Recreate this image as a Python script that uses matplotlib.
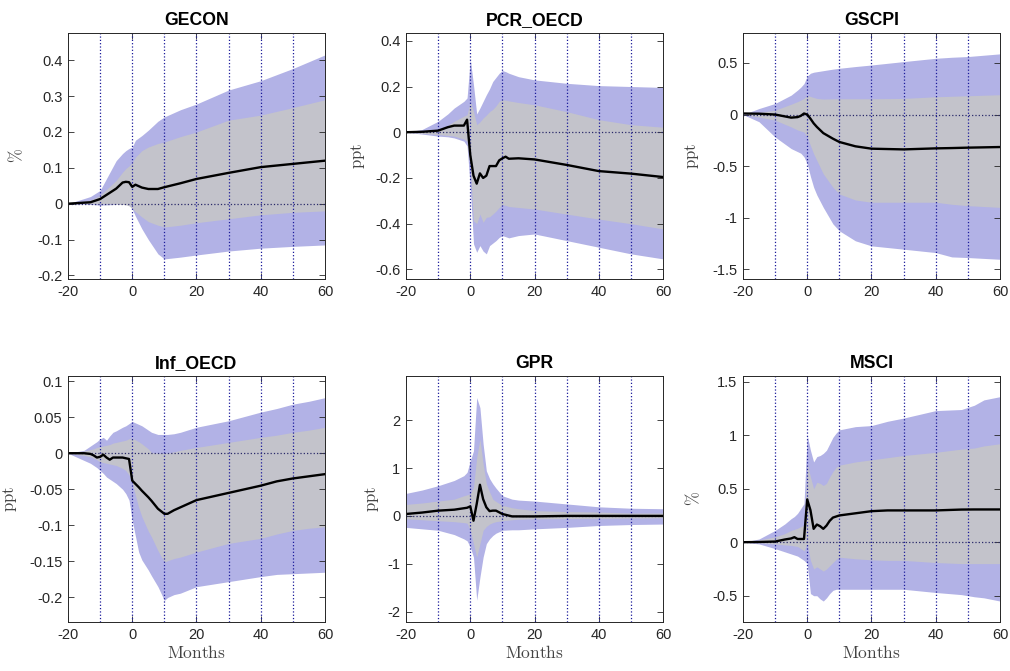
import matplotlib
matplotlib.use('Agg')
import matplotlib.pyplot as plt
import numpy as np

plt.rcParams['font.family'] = ['Liberation Sans', 'DejaVu Sans']
plt.rcParams['axes.unicode_minus'] = False
plt.rcParams['mathtext.fontset'] = 'cm'

# ---- data (horizon in months) ----
# GECON
gecon_x = [-20, -13, -10, -5, -3, -2, -1, 0, 1, 3, 5, 8, 10, 15, 20, 30, 40, 50, 60]
gecon_hi90 = [0, 0.02, 0.037, 0.12, 0.14, 0.148, 0.154, 0.158, 0.177, 0.19, 0.205, 0.23, 0.242, 0.262, 0.278, 0.317, 0.343, 0.377, 0.415]
gecon_hi68 = [0, 0.01, 0.023, 0.065, 0.088, 0.098, 0.105, 0.115, 0.13, 0.148, 0.158, 0.168, 0.172, 0.187, 0.2, 0.233, 0.247, 0.268, 0.29]
gecon_med = [0, 0.004, 0.013, 0.042, 0.059, 0.061, 0.06, 0.047, 0.053, 0.045, 0.041, 0.041, 0.046, 0.057, 0.069, 0.086, 0.102, 0.111, 0.12]
gecon_lo68 = [0, 0, 0, -0.001, -0.002, -0.003, -0.006, -0.014, -0.022, -0.037, -0.05, -0.06, -0.065, -0.06, -0.053, -0.042, -0.031, -0.024, -0.02]
gecon_lo90 = [0, -0.002, -0.004, -0.002, 0.018, 0.02, 0.014, -0.015, -0.035, -0.07, -0.1, -0.14, -0.154, -0.149, -0.143, -0.132, -0.124, -0.119, -0.115]

# PCR_OECD
pcr_x = [-20, -15, -10, -7, -5, -2, -1, 0, 1, 2, 3, 4, 5, 6, 7, 8, 9, 10, 11, 12, 15, 20, 30, 40, 50, 60]
pcr_hi90 = [0, 0.012, 0.048, 0.08, 0.106, 0.135, 0.15, 0.32, 0.207, 0.08, 0.106, 0.135, 0.164, 0.19, 0.222, 0.24, 0.258, 0.27, 0.265, 0.258, 0.243, 0.229, 0.214, 0.204, 0.2, 0.196]
pcr_hi68 = [0, 0.005, 0.012, 0.03, 0.048, 0.07, 0.077, 0.135, 0.09, 0.033, 0.045, 0.062, 0.075, 0.09, 0.1, 0.115, 0.135, 0.142, 0.14, 0.137, 0.13, 0.12, 0.09, 0.055, 0.033, 0.022]
pcr_med = [0, 0.002, 0.007, 0.022, 0.029, 0.029, 0.055, -0.1, -0.19, -0.225, -0.18, -0.2, -0.19, -0.148, -0.148, -0.148, -0.123, -0.114, -0.107, -0.116, -0.114, -0.119, -0.143, -0.17, -0.181, -0.196]
pcr_lo68 = [0, -0.005, -0.01, -0.014, -0.017, -0.03, -0.039, -0.155, -0.387, -0.4, -0.358, -0.394, -0.372, -0.37, -0.358, -0.345, -0.329, -0.317, -0.32, -0.325, -0.329, -0.336, -0.358, -0.38, -0.4, -0.423]
pcr_lo90 = [0, -0.008, -0.017, -0.02, -0.025, -0.039, -0.06, -0.24, -0.488, -0.525, -0.496, -0.52, -0.532, -0.496, -0.485, -0.474, -0.46, -0.452, -0.457, -0.462, -0.452, -0.445, -0.474, -0.503, -0.532, -0.554]

# GSCPI
gscpi_x = [-20, -15, -10, -5, -3, -2, -1, 0, 1, 2, 3, 5, 8, 10, 15, 20, 30, 40, 45, 50, 60]
gscpi_hi90 = [0, 0.058, 0.107, 0.188, 0.237, 0.265, 0.3, 0.373, 0.4, 0.41, 0.415, 0.425, 0.44, 0.448, 0.465, 0.48, 0.513, 0.545, 0.555, 0.562, 0.588]
gscpi_hi68 = [0, 0.02, 0.042, 0.1, 0.125, 0.14, 0.156, 0.188, 0.175, 0.165, 0.156, 0.15, 0.152, 0.153, 0.153, 0.153, 0.156, 0.172, 0.177, 0.182, 0.192]
gscpi_med = [0.01, 0.008, 0.0, -0.03, -0.025, -0.013, 0.01, 0.0, -0.04, -0.085, -0.12, -0.18, -0.234, -0.266, -0.308, -0.331, -0.338, -0.328, -0.325, -0.321, -0.315]
gscpi_lo68 = [0, -0.025, -0.055, -0.12, -0.15, -0.16, -0.17, -0.218, -0.3, -0.38, -0.445, -0.575, -0.705, -0.77, -0.828, -0.85, -0.85, -0.85, -0.87, -0.883, -0.9]
gscpi_lo90 = [0, -0.07, -0.218, -0.33, -0.36, -0.375, -0.41, -0.477, -0.6, -0.705, -0.78, -0.9, -1.06, -1.127, -1.224, -1.273, -1.305, -1.338, -1.38, -1.386, -1.403]

# Inf_OECD
inf_x = [-20, -15, -13, -12, -11, -10, -9, -8, -7, -6, -5, -3, -2, -1, 0, 2, 3, 5, 6, 8, 10, 11, 13, 15, 20, 30, 40, 45, 50, 55, 60]
inf_hi90 = [0, 0.004, 0.01, 0.013, 0.016, 0.02, 0.022, 0.018, 0.024, 0.029, 0.031, 0.036, 0.038, 0.041, 0.044, 0.04, 0.038, 0.032, 0.029, 0.026, 0.026, 0.026, 0.027, 0.029, 0.036, 0.045, 0.057, 0.062, 0.068, 0.072, 0.077]
inf_hi68 = [0, 0.003, 0.005, 0.006, 0.008, 0.009, 0.01, 0.011, 0.012, 0.014, 0.015, 0.017, 0.018, 0.02, 0.021, 0.016, 0.013, 0.006, 0.001, 0.0, 0.0, 0.0, 0.002, 0.004, 0.008, 0.015, 0.022, 0.025, 0.029, 0.032, 0.036]
inf_med = [0, 0, -0.001, -0.003, -0.006, -0.005, -0.002, -0.006, -0.009, -0.006, -0.006, -0.006, -0.007, -0.008, -0.038, -0.047, -0.052, -0.061, -0.066, -0.077, -0.084, -0.084, -0.079, -0.075, -0.065, -0.055, -0.045, -0.039, -0.035, -0.032, -0.029]
inf_lo68 = [0, -0.003, -0.005, -0.007, -0.009, -0.012, -0.013, -0.014, -0.015, -0.016, -0.017, -0.021, -0.024, -0.03, -0.042, -0.075, -0.088, -0.108, -0.116, -0.135, -0.151, -0.149, -0.146, -0.144, -0.137, -0.125, -0.118, -0.112, -0.107, -0.104, -0.102]
inf_lo90 = [0, -0.01, -0.014, -0.017, -0.02, -0.024, -0.028, -0.033, -0.036, -0.039, -0.042, -0.05, -0.056, -0.065, -0.093, -0.137, -0.148, -0.162, -0.17, -0.185, -0.204, -0.2, -0.196, -0.194, -0.185, -0.178, -0.171, -0.168, -0.167, -0.166, -0.165]

# GPR
gpr_x = [-20, -15, -10, -5, -2, -1, 0, 1, 2, 3, 4, 5, 6, 7, 8, 10, 13, 15, 20, 30, 40, 50, 60]
gpr_hi90 = [0.47, 0.54, 0.63, 0.74, 0.84, 0.91, 1.15, 1.36, 2.47, 2.26, 1.5, 0.94, 0.78, 0.67, 0.58, 0.42, 0.35, 0.33, 0.31, 0.25, 0.19, 0.16, 0.15]
gpr_hi68 = [0.24, 0.27, 0.31, 0.35, 0.42, 0.44, 0.46, 0.6, 1.22, 1.6, 1.08, 0.67, 0.5, 0.35, 0.3, 0.22, 0.17, 0.15, 0.11, 0.09, 0.08, 0.06, 0.06]
gpr_med = [0.04, 0.07, 0.11, 0.13, 0.16, 0.17, 0.2, -0.1, 0.25, 0.65, 0.35, 0.18, 0.1, 0.11, 0.11, 0.04, -0.01, -0.01, -0.01, 0, 0, 0, 0]
gpr_lo68 = [-0.06, -0.08, -0.1, -0.12, -0.14, -0.15, -0.3, -0.58, -0.86, -0.58, -0.3, -0.22, -0.17, -0.14, -0.12, -0.1, -0.08, -0.07, -0.06, -0.055, -0.05, -0.045, -0.04]
gpr_lo90 = [-0.24, -0.27, -0.3, -0.39, -0.48, -0.52, -0.65, -0.86, -1.76, -1.28, -0.86, -0.58, -0.48, -0.41, -0.36, -0.3, -0.29, -0.29, -0.27, -0.24, -0.2, -0.18, -0.17]

# MSCI
msci_x = [-20, -15, -10, -7, -5, -4, -3, -1, 0, 1, 2, 3, 4, 5, 6, 7, 8, 9, 10, 15, 20, 25, 30, 40, 48, 52, 55, 60]
msci_hi90 = [0, 0.03, 0.11, 0.17, 0.22, 0.24, 0.27, 0.36, 1.0, 0.86, 0.75, 0.8, 0.81, 0.83, 0.86, 0.92, 0.98, 1.02, 1.05, 1.08, 1.09, 1.13, 1.16, 1.23, 1.24, 1.28, 1.33, 1.36]
msci_hi68 = [0, 0.02, 0.05, 0.08, 0.11, 0.12, 0.13, 0.16, 0.73, 0.61, 0.5, 0.56, 0.55, 0.53, 0.55, 0.61, 0.66, 0.7, 0.72, 0.75, 0.77, 0.79, 0.81, 0.84, 0.87, 0.88, 0.9, 0.92]
msci_med = [0, 0.002, 0.006, 0.025, 0.035, 0.047, 0.03, 0.03, 0.4, 0.3, 0.125, 0.165, 0.15, 0.125, 0.155, 0.2, 0.23, 0.24, 0.25, 0.27, 0.29, 0.297, 0.297, 0.297, 0.305, 0.306, 0.306, 0.306]
msci_lo68 = [0, -0.005, -0.016, -0.025, -0.03, -0.035, -0.04, -0.08, -0.016, -0.17, -0.25, -0.23, -0.25, -0.27, -0.25, -0.22, -0.19, -0.16, -0.14, -0.155, -0.165, -0.17, -0.17, -0.19, -0.2, -0.2, -0.2, -0.2]
msci_lo90 = [0, -0.016, -0.06, -0.09, -0.11, -0.12, -0.13, -0.17, -0.2, -0.48, -0.5, -0.5, -0.53, -0.55, -0.52, -0.48, -0.45, -0.44, -0.44, -0.44, -0.44, -0.44, -0.44, -0.47, -0.49, -0.51, -0.52, -0.55]

titles = ['GECON', 'PCR_OECD', 'GSCPI', 'Inf_OECD', 'GPR', 'MSCI']
units = [r'$\%$', r'$\mathrm{ppt}$', r'$\mathrm{ppt}$', r'$\mathrm{ppt}$', r'$\mathrm{ppt}$', r'$\%$']
vlines_at = [-10, 0, 10, 20, 30, 40, 50]

panels = [
    (gecon_x, gecon_lo90, gecon_lo68, gecon_med, gecon_hi68, gecon_hi90),
    (pcr_x, pcr_lo90, pcr_lo68, pcr_med, pcr_hi68, pcr_hi90),
    (gscpi_x, gscpi_lo90, gscpi_lo68, gscpi_med, gscpi_hi68, gscpi_hi90),
    (inf_x, inf_lo90, inf_lo68, inf_med, inf_hi68, inf_hi90),
    (gpr_x, gpr_lo90, gpr_lo68, gpr_med, gpr_hi68, gpr_hi90),
    (msci_x, msci_lo90, msci_lo68, msci_med, msci_hi68, msci_hi90),
]

# layout / styling
ylims = [(-0.21, 0.476), (-0.642, 0.434), (-1.594, 0.79), (-0.234, 0.107), (-2.215, 2.92), (-0.746, 1.553)]
yticks = [np.arange(-0.2, 0.41, 0.1), np.arange(-0.6, 0.41, 0.2), np.arange(-1.5, 0.51, 0.5),
          np.arange(-0.2, 0.11, 0.05), np.arange(-2, 2.1, 1), np.arange(-0.5, 1.51, 0.5)]
ylab_x = [-0.167, -0.152, -0.163, -0.19, -0.098, -0.159]
lefts = [0.0673, 0.402, 0.7356]
bottoms = [0.5842, 0.073]
w, h = 0.2545, 0.3666

c_outer = '#b2b2e6'
c_inner = '#c3c3cb'
c_dot = '#1a1a9a'
c_axis = '#262626'


def fmt(v):
    s = ('%.2f' % v).rstrip('0').rstrip('.')
    return '0' if s in ('0', '-0') else s


fig = plt.figure(figsize=(10.1, 6.71), dpi=100)
for i, (x, lo90, lo68, med, hi68, hi90) in enumerate(panels):
    ax = fig.add_axes([lefts[i % 3], bottoms[i // 3], w, h])
    ax.fill_between(x, lo90, hi90, color=c_outer, lw=0)
    ax.fill_between(x, lo68, hi68, color=c_inner, lw=0)
    for xv in vlines_at:
        ax.axvline(xv, color=c_dot, ls=':', lw=0.9)
    ax.axhline(0, color='#2a2a6a', ls=':', lw=0.9)
    ax.plot(x, med, color='black', lw=1.7)

    ax.set_xlim(-20, 60)
    ax.set_ylim(*ylims[i])
    ax.set_xticks([-20, 0, 20, 40, 60])
    ax.set_yticks(yticks[i])
    ax.set_yticklabels([fmt(v) for v in yticks[i]])
    ax.tick_params(direction='in', top=True, right=True, length=4, width=0.6,
                   labelsize=10.5, colors=c_axis, pad=4)
    for sp in ax.spines.values():
        sp.set_color(c_axis)
        sp.set_linewidth(0.7)
    ax.set_title(titles[i], fontsize=12.7, fontweight='bold', pad=6)
    ax.set_ylabel(units[i], fontsize=12, color='#444444')
    ax.yaxis.set_label_coords(ylab_x[i], 0.5)
    if i >= 3:
        ax.set_xlabel(r'$\mathrm{Months}$', fontsize=12.5, color='#444444', labelpad=2)

fig.savefig('out.png', dpi=100)
